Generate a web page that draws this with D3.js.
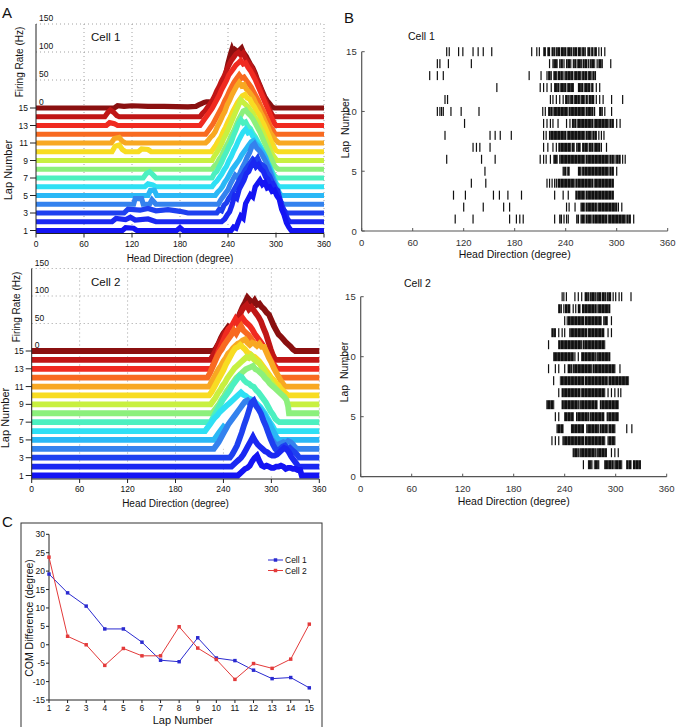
<!DOCTYPE html>
<html><head><meta charset="utf-8">
<script src="https://cdn.jsdelivr.net/npm/d3@7"></script>
<style>
body{margin:0;background:#fff}
svg{display:block}
text{font-family:"Liberation Sans",Arial,Helvetica,sans-serif;fill:#111}
</style>
</head><body>
<svg id="fig" width="686" height="727"></svg>
<script>
// ---------------- DATA ----------------
const lapNumbers = [1,2,3,4,5,6,7,8,9,10,11,12,13,14,15];
const degreeTicks = [0,60,120,180,240,300,360];
const lapTicksA = [1,3,5,7,9,11,13,15];
const rateTicks = [0,50,100,150];
const lapTicksB = [0,5,10,15];
const comTicks = [30,25,20,15,10,5,0,-5,-10,-15];

// Panel A, Cell 1: firing rate traces per lap, [degree, Hz]
const cell1Rate = [
 [[0,0],[108,0],[112,5],[122,4],[126,0],[176,0],[180,5],[184,0],[244,0],[247,6],[250,4],[253,16],[256,26],[259,22],[262,48],[265,56],[268,64],[271,60],[274,78],[277,84],[280,90],[283,82],[286,86],[289,76],[292,78],[295,70],[298,72],[301,62],[304,56],[307,38],[310,28],[313,14],[316,6],[319,0],[360,0]],
 [[0,0],[95,0],[100,6],[112,4],[118,8],[124,3],[140,5],[150,0],[232,0],[236,5],[239,12],[242,18],[245,30],[248,46],[251,42],[254,58],[257,66],[260,74],[263,86],[266,90],[269,100],[272,107],[275,98],[278,102],[281,94],[284,90],[287,80],[290,76],[293,66],[296,68],[299,60],[302,56],[305,40],[308,26],[311,18],[314,6],[317,0],[360,0]],
 [[0,0],[110,0],[115,7],[130,5],[140,8],[150,4],[165,6],[180,3],[190,0],[226,0],[229,6],[232,4],[235,14],[238,18],[241,26],[244,32],[247,40],[250,48],[253,56],[256,64],[259,70],[262,78],[265,84],[268,90],[271,96],[274,92],[277,98],[280,88],[283,86],[286,82],[289,72],[292,66],[295,56],[298,48],[301,36],[304,26],[307,14],[310,4],[313,0],[360,0]],
 [[0,0],[122,0],[124,10],[132,10],[134,0],[142,0],[145,8],[150,0],[228,0],[231,8],[234,14],[237,20],[240,26],[243,36],[246,44],[249,52],[252,48],[255,56],[258,66],[261,74],[264,84],[267,92],[270,104],[273,108],[276,100],[279,96],[282,90],[285,82],[288,74],[291,64],[294,52],[297,40],[300,26],[303,12],[306,4],[309,0],[360,0]],
 [[0,0],[140,0],[143,9],[148,9],[151,0],[224,0],[227,6],[230,10],[233,16],[236,24],[239,30],[242,38],[245,46],[248,52],[251,58],[254,64],[257,72],[260,78],[263,84],[266,90],[269,96],[272,98],[275,92],[278,88],[281,82],[284,76],[287,68],[290,56],[293,46],[296,34],[299,22],[302,12],[305,2],[308,0],[360,0]],
 [[0,0],[136,0],[140,5],[146,3],[150,0],[220,0],[223,6],[226,10],[229,16],[232,22],[235,30],[238,36],[241,46],[244,54],[247,64],[250,72],[253,82],[256,90],[259,98],[262,103],[265,96],[268,98],[271,90],[274,86],[277,78],[280,72],[283,62],[286,54],[289,44],[292,34],[295,22],[298,12],[301,4],[304,0],[360,0]],
 [[0,0],[134,0],[138,8],[142,11],[146,6],[150,0],[220,0],[223,8],[226,12],[229,20],[232,28],[235,38],[238,46],[241,56],[244,64],[247,76],[250,86],[253,98],[256,104],[259,98],[262,100],[265,92],[268,88],[271,80],[274,74],[277,66],[280,58],[283,50],[286,40],[289,30],[292,22],[295,12],[298,4],[301,0],[360,0]],
 [[0,0],[220,0],[223,6],[226,10],[229,18],[232,24],[235,34],[238,42],[241,50],[244,60],[247,68],[250,78],[253,88],[256,96],[259,104],[262,106],[265,100],[268,96],[271,90],[274,82],[277,74],[280,66],[283,56],[286,46],[289,36],[292,26],[295,16],[298,6],[301,2],[303,0],[360,0]],
 [[0,0],[220,0],[223,8],[226,14],[229,22],[232,30],[235,40],[238,48],[241,58],[244,68],[247,78],[250,88],[253,98],[256,108],[259,104],[262,100],[265,96],[268,90],[271,84],[274,76],[277,70],[280,60],[283,52],[286,42],[289,32],[292,22],[295,12],[298,6],[301,0],[360,0]],
 [[0,0],[95,0],[99,10],[104,12],[108,4],[112,0],[128,0],[132,5],[140,4],[144,0],[219,0],[222,6],[225,12],[228,20],[231,26],[234,36],[237,44],[240,54],[243,62],[246,72],[249,80],[252,88],[255,94],[258,100],[261,102],[264,96],[267,94],[270,86],[273,80],[276,72],[279,66],[282,56],[285,48],[288,38],[291,28],[294,18],[297,10],[300,2],[303,0],[360,0]],
 [[0,0],[94,0],[98,8],[104,10],[108,3],[112,0],[212,0],[215,4],[218,10],[221,14],[224,20],[227,30],[230,38],[233,48],[236,56],[239,68],[242,76],[245,86],[248,94],[251,102],[254,108],[257,102],[260,104],[263,96],[266,92],[269,86],[272,80],[275,70],[278,64],[281,54],[284,46],[287,36],[290,28],[293,18],[296,12],[299,6],[302,2],[304,0],[360,0]],
 [[0,0],[212,0],[215,6],[218,12],[221,18],[224,26],[227,34],[230,42],[233,50],[236,60],[239,68],[242,78],[245,86],[248,94],[251,100],[254,106],[257,100],[260,102],[263,96],[266,90],[269,84],[272,76],[275,68],[278,60],[281,50],[284,42],[287,32],[290,24],[293,14],[296,8],[299,0],[360,0]],
 [[0,0],[88,0],[92,5],[98,3],[102,0],[205,0],[208,6],[211,12],[214,18],[217,24],[220,30],[223,38],[226,46],[229,54],[232,64],[235,72],[238,80],[241,90],[244,96],[247,102],[250,108],[253,112],[256,116],[259,110],[262,112],[265,104],[268,98],[271,90],[274,82],[277,72],[280,62],[283,52],[286,42],[289,32],[292,22],[295,12],[298,4],[300,0],[360,0]],
 [[0,0],[86,0],[90,8],[93,12],[97,8],[101,2],[104,0],[205,0],[208,6],[211,10],[214,16],[217,22],[220,28],[223,36],[226,46],[229,54],[232,64],[235,72],[238,82],[241,92],[244,100],[247,106],[250,112],[253,115],[256,110],[259,114],[262,104],[265,98],[268,92],[271,84],[274,74],[277,64],[280,54],[283,42],[286,32],[289,22],[292,12],[295,4],[297,0],[360,0]],
 [[0,0],[98,0],[102,4],[110,3],[120,4],[140,3],[160,3],[190,2],[200,3],[204,6],[207,8],[210,10],[213,11],[216,11],[219,10],[222,4],[225,6],[228,14],[231,26],[234,44],[237,60],[240,80],[243,96],[245,105],[247,98],[249,104],[251,102],[253,96],[255,104],[257,107],[259,100],[261,96],[263,92],[265,86],[268,78],[271,72],[274,62],[277,50],[280,40],[283,30],[286,20],[289,13],[292,8],[295,2],[298,0],[360,0]]
];

// Panel A, Cell 2
const cell2Rate = [
 [[0,0],[258,0],[261,4],[264,8],[267,12],[270,14],[273,18],[276,26],[279,32],[282,36],[285,26],[288,18],[291,16],[294,18],[297,16],[300,14],[303,14],[306,16],[309,16],[312,18],[315,16],[318,12],[321,14],[324,14],[327,12],[330,12],[333,10],[336,10],[338,0],[360,0]],
 [[0,0],[250,0],[253,4],[256,8],[259,12],[262,16],[265,22],[268,30],[271,38],[274,46],[277,54],[280,46],[283,40],[286,36],[289,32],[292,28],[295,26],[298,22],[301,20],[304,20],[307,22],[310,26],[313,30],[316,34],[319,32],[322,26],[325,18],[328,12],[331,6],[334,0],[360,0]],
 [[0,0],[248,0],[251,6],[254,14],[257,22],[260,34],[263,46],[266,60],[269,72],[272,86],[275,100],[278,104],[281,94],[284,88],[287,80],[290,68],[293,58],[296,46],[299,34],[302,24],[305,16],[308,12],[311,16],[314,20],[317,22],[320,16],[323,18],[326,14],[329,10],[332,6],[335,0],[360,0]],
 [[0,0],[228,0],[231,6],[234,12],[237,20],[240,28],[243,36],[246,44],[249,50],[252,56],[255,62],[258,68],[261,74],[264,80],[267,86],[270,88],[273,82],[276,76],[279,72],[282,66],[285,60],[288,50],[291,42],[294,34],[297,26],[300,18],[303,12],[306,6],[309,8],[312,10],[315,12],[318,10],[321,14],[324,12],[327,8],[330,2],[333,0],[360,0]],
 [[0,0],[228,0],[231,6],[234,12],[237,18],[240,24],[243,20],[246,18],[249,22],[252,26],[255,32],[258,40],[261,46],[264,54],[267,58],[270,64],[273,70],[276,72],[279,66],[282,62],[285,58],[288,52],[291,46],[294,38],[297,32],[300,22],[303,14],[306,6],[309,0],[360,0]],
 [[0,0],[217,0],[220,6],[223,12],[226,18],[229,24],[232,28],[235,34],[238,38],[241,42],[244,46],[247,50],[250,54],[253,58],[256,62],[259,66],[262,70],[265,66],[268,64],[271,60],[274,58],[277,56],[280,52],[283,48],[286,44],[289,38],[292,32],[295,24],[298,16],[301,10],[304,2],[306,0],[360,0]],
 [[0,0],[224,0],[227,8],[230,16],[233,24],[236,32],[239,40],[242,46],[245,52],[248,58],[251,66],[254,72],[257,78],[260,84],[263,82],[266,76],[269,72],[272,70],[275,66],[278,64],[281,58],[284,54],[287,48],[290,42],[293,36],[296,28],[299,20],[302,14],[305,6],[308,2],[310,0],[360,0]],
 [[0,0],[226,0],[229,6],[232,12],[235,18],[238,26],[241,32],[244,40],[247,46],[250,52],[253,58],[256,64],[259,68],[262,72],[265,76],[268,80],[271,82],[274,84],[277,86],[280,80],[283,78],[286,74],[289,70],[292,64],[295,60],[298,54],[301,50],[304,46],[307,42],[310,38],[313,34],[316,30],[319,24],[321,12],[322,0],[360,0]],
 [[0,0],[224,0],[227,6],[230,12],[233,20],[236,26],[239,34],[242,40],[245,48],[248,54],[251,60],[254,66],[257,70],[260,74],[263,78],[266,82],[269,86],[272,84],[275,88],[278,82],[281,78],[284,76],[287,70],[290,64],[293,56],[296,50],[299,42],[302,36],[305,30],[308,24],[311,18],[314,12],[317,6],[320,0],[360,0]],
 [[0,0],[222,0],[225,6],[228,14],[231,22],[234,30],[237,38],[240,46],[243,56],[246,64],[249,72],[252,80],[255,86],[258,88],[261,92],[264,88],[267,84],[270,78],[273,76],[276,72],[279,70],[282,66],[285,62],[288,56],[291,50],[294,44],[297,38],[300,32],[303,28],[306,22],[309,18],[312,12],[315,8],[318,4],[321,0],[360,0]],
 [[0,0],[222,0],[225,8],[228,16],[231,24],[234,32],[237,38],[240,46],[243,52],[246,60],[249,64],[252,70],[255,74],[258,78],[261,80],[264,84],[267,86],[270,80],[273,76],[276,80],[279,78],[282,74],[285,78],[288,72],[291,72],[294,62],[297,52],[300,44],[303,34],[306,26],[309,18],[312,10],[315,4],[317,0],[360,0]],
 [[0,0],[220,0],[223,8],[226,18],[229,28],[232,38],[235,46],[238,52],[241,60],[244,66],[247,72],[250,78],[253,86],[256,80],[259,88],[262,94],[265,86],[268,82],[271,78],[274,72],[277,66],[280,58],[283,50],[286,42],[289,36],[292,28],[295,20],[298,12],[301,6],[304,0],[360,0]],
 [[0,0],[225,0],[228,10],[231,20],[234,32],[237,42],[240,52],[243,62],[246,72],[249,76],[252,82],[255,90],[258,82],[261,88],[264,92],[267,86],[270,82],[273,78],[276,72],[279,64],[282,58],[285,52],[288,46],[291,38],[294,30],[297,22],[300,14],[303,8],[306,2],[308,0],[360,0]],
 [[0,0],[224,0],[227,8],[230,16],[233,26],[236,34],[239,42],[242,50],[245,52],[248,46],[251,54],[254,62],[257,72],[260,80],[263,90],[266,96],[269,100],[272,92],[275,96],[278,90],[281,84],[284,78],[287,70],[290,58],[293,48],[296,34],[299,20],[302,8],[305,0],[360,0]],
 [[0,0],[228,0],[231,6],[234,14],[237,24],[240,32],[243,38],[246,44],[249,40],[252,36],[255,46],[258,58],[261,70],[264,80],[267,88],[270,97],[273,92],[276,86],[279,92],[282,84],[285,86],[288,80],[291,76],[294,70],[297,66],[300,56],[303,46],[306,38],[309,30],[312,26],[315,21],[318,16],[321,12],[324,8],[327,3],[330,0],[360,0]]
];

// Panel B rasters: spikes per lap (degree), [start,end] = dense run of spikes
const cell1Spikes = [
 [110,131,174,182,186,190,227,[233,235],238,241,243,[253,255],[258,262],[264,270],[272,288],[290,310],[312,316],320],
 [120,143,167,174,241,244,251,[258,262],[264,276],[278,300],302,306],
 [108,122,155,162,172,188,227,237,243,[252,262],[264,296]],
 [129,146,218,221,224,227,229,[231,250],[252,272],[274,296]],
 [145,[237,240],[242,244],[255,258],[260,290],[292,296],300],
 [100,141,157,210,214,217,222,[226,230],[233,262],[264,290],[292,296],298,[300,304],307,310],
 [131,135,139,151,214,219,225,229,[232,246],[248,250],[253,257],[260,266],[268,272],[274,280],282,288],
 [98,151,157,163,176,214,217,[221,240],[242,262],[264,270],[272,276],279,282,285],
 [121,214,218,222,225,231,241,245,[248,252],[254,272],[274,290],[292,296],300,304],
 [89,92,94,96,105,117,138,213,216,[220,224],[226,242],[244,262],[264,272],274,[280,283],286,294],
 [98,101,222,225,229,233,237,[240,243],[245,248],[250,256],[258,262],[264,266],[268,273],276,280,284,294,307],
 [159,210,214,218,223,[227,232],[234,240],[242,249],[255,260],[262,268],[270,272],276,280],
 [80,89,96,197,211,218,[220,223],[226,229],[231,236],238,[240,248],[250,258],[260,265],[267,270],[272,275]],
 [89,92,102,129,221,[225,230],[233,236],238,[241,246],[249,252],[254,259],[261,265],267,[269,274],277,[279,283],293],
 [100,103,114,119,131,137,143,153,200,206,209,[214,216],[219,221],[224,227],[229,233],[235,240],[242,247],[249,253],[255,258],[260,263],[266,268],[270,272],[274,276],279,282,286]
];
const cell2Spikes = [
 [262,[268,272],[275,280],[287,297],[299,307],[313,318],[321,329]],
 [[250,256],[258,276],[278,289],295,299,303],
 [225,229,233,[238,262],[264,287],[291,299]],
 [[231,238],[248,262],[266,280],[282,290],[292,299],313,319],
 [229,233,[240,250],[254,268],[270,286],[290,303]],
 [[219,227],[237,256],[258,278],[282,303]],
 [233,[237,258],[260,287],291,295,299,303,306],
 [227,[235,262],[264,290],[292,315]],
 [221,229,233,240,[244,248],[250,272],[274,299],305],
 [[227,250],252,256,[260,276],[278,293]],
 [221,[233,260],[262,287]],
 [[225,229],233,237,240,[246,266],[268,286],291,295],
 [240,[243,262],[264,283],[286,290],295],
 [[233,236],239,[241,246],250,253,[256,258],[261,277],[279,293]],
 [237,239,242,252,256,260,[264,268],[270,276],[278,282],[284,288],[290,294],297,300,304,307,318]
];

// Panel C: COM difference (degree) per lap
const comCell1 = [19.2,14.1,10.5,4.3,4.3,0.7,-4.2,-4.6,1.9,-3.6,-4.3,-6.9,-9.2,-8.9,-11.7];
const comCell2 = [23.8,2.3,0.0,-5.6,-1.0,-3.0,-3.0,4.9,-0.9,-4.0,-9.4,-5.1,-6.4,-3.9,5.6];

// ---------------- STYLE ----------------
const lapColors = ["#1414f4","#1a28f2","#1e40f0","#3482ee","#2ab8f6","#2ee0f4","#4cf0c0","#8cf07c","#c8f040","#f8dc22","#f8a822","#f86a20","#f02a20","#c01616","#8a1010"];
const svg = d3.select("#fig");
const defs = svg.append("defs");
const pat = defs.append("pattern").attr("id","spk").attr("patternUnits","userSpaceOnUse")
  .attr("width",3.4).attr("height",20);
pat.append("rect").attr("x",0).attr("y",0).attr("width",3.4).attr("height",20).attr("fill","#111");
pat.append("rect").attr("x",2.9).attr("y",0).attr("width",0.5).attr("height",20).attr("fill","#777");

function txt(g, x, y, s, size, anchor, extra){
  const t = g.append("text").attr("x",x).attr("y",y).attr("font-size",size)
    .attr("text-anchor",anchor||"start").text(s);
  if (extra) extra(t);
  return t;
}

// ---------------- PANEL A (waterfall) ----------------
function waterfall(cfg, traces){
  const g = svg.append("g");
  const x = d3.scaleLinear().domain([0,360]).range([cfg.x0,cfg.x1]);
  const lapY = d3.scaleLinear().domain([1,15]).range([cfg.yLap1,cfg.yLap15]);
  const rate = d3.scaleLinear().domain([0,150]).range([0,150*cfg.pxHz]);
  const top = cfg.yLap15 - rate(150);
  const grid = g.append("g").attr("stroke","#8a8a8a").attr("stroke-width",0.8).attr("stroke-dasharray","1,3");
  degreeTicks.filter(d=>d>0).forEach(d=>{
    grid.append("line").attr("x1",x(d)).attr("x2",x(d)).attr("y1",top).attr("y2",cfg.axisY);
  });
  rateTicks.filter(r=>r>0).forEach(r=>{
    grid.append("line").attr("x1",cfg.x0).attr("x2",cfg.x1).attr("y1",cfg.yLap15-rate(r)).attr("y2",cfg.yLap15-rate(r));
  });
  for (let i = lapNumbers.length-1; i>=0; i--){
    const base = lapY(lapNumbers[i]);
    const area = d3.area().x(d=>x(d[0])).y0(base).y1(d=>base-rate(d[1]));
    const line = d3.line().x(d=>x(d[0])).y(d=>base-rate(d[1]));
    g.append("path").attr("d",area(traces[i])).attr("fill","#fff");
    g.append("path").attr("d",line(traces[i])).attr("fill","none")
      .attr("stroke",lapColors[i]).attr("stroke-width",cfg.sw).attr("stroke-linejoin","miter");
  }
  g.append("line").attr("x1",cfg.x0).attr("x2",cfg.x0).attr("y1",top).attr("y2",cfg.axisY).attr("stroke","#222").attr("stroke-width",1);
  g.append("line").attr("x1",cfg.x0).attr("x2",cfg.x1).attr("y1",cfg.axisY).attr("y2",cfg.axisY).attr("stroke","#222").attr("stroke-width",1);
  degreeTicks.forEach(d=>{
    g.append("line").attr("x1",x(d)).attr("x2",x(d)).attr("y1",cfg.axisY).attr("y2",cfg.axisY+4).attr("stroke","#222");
    txt(g, x(d), cfg.axisY+13, d, 8.5, "middle");
  });
  lapTicksA.forEach(l=>{
    g.append("line").attr("x1",cfg.x0-6).attr("x2",cfg.x0).attr("y1",lapY(l)).attr("y2",lapY(l)).attr("stroke","#222");
    txt(g, cfg.x0-8, lapY(l)+3, l, 8.5, "end");
  });
  rateTicks.forEach(r=>{
    txt(g, cfg.x0+3, cfg.yLap15-rate(r)-3, r, 8.5, "start");
  });
  txt(g, cfg.cellX, cfg.cellY, cfg.cell, 11.5, "start");
  txt(g, 0, 0, "Firing Rate (Hz)", 10, "middle", t=>t.attr("transform",`translate(${cfg.frX},${cfg.frY}) rotate(-90)`));
  txt(g, 0, 0, "Lap Number", 11, "middle", t=>t.attr("transform",`translate(${cfg.lnX},${cfg.lnY}) rotate(-90)`));
  txt(g, (cfg.x0+cfg.x1)/2, cfg.hdY, "Head Direction (degree)", 10, "middle");
}

waterfall({x0:36,x1:324,yLap1:230.5,yLap15:108,pxHz:0.56,axisY:233.5,sw:5.2,
  cell:"Cell 1",cellX:91,cellY:41,frX:23,frY:62,lnX:12,lnY:170,hdY:262},cell1Rate);
waterfall({x0:31.7,x1:319.3,yLap1:475.5,yLap15:351,pxHz:0.55,axisY:479,sw:5.8,
  cell:"Cell 2",cellX:91,cellY:286,frX:20,frY:307,lnX:9,lnY:418,hdY:507},cell2Rate);

// ---------------- PANEL B (rasters) ----------------
function raster(cfg, spikes){
  const g = svg.append("g");
  const x = d3.scaleLinear().domain([0,360]).range([cfg.x0,cfg.x1]);
  const y = d3.scaleLinear().domain([0,15]).range([cfg.y0,cfg.y15]);
  spikes.forEach((row,i)=>{
    const yc = y(lapNumbers[i]);
    row.forEach(s=>{
      if (Array.isArray(s)){
        g.append("rect").attr("x",x(s[0])-0.6).attr("width",x(s[1])-x(s[0])+1.2)
          .attr("y",yc-4.5).attr("height",9).attr("fill","url(#spk)");
      } else {
        g.append("rect").attr("x",x(s)-0.6).attr("width",1.2)
          .attr("y",yc-4.5).attr("height",9).attr("fill","#111");
      }
    });
  });
  const ax = "#555";
  g.append("line").attr("x1",cfg.x0).attr("x2",cfg.x1).attr("y1",cfg.y0).attr("y2",cfg.y0).attr("stroke",ax).attr("stroke-width",1.2);
  g.append("line").attr("x1",cfg.x0).attr("x2",cfg.x0).attr("y1",cfg.y0).attr("y2",y(15)).attr("stroke",ax).attr("stroke-width",1.2);
  degreeTicks.forEach(d=>{
    g.append("line").attr("x1",x(d)).attr("x2",x(d)).attr("y1",cfg.y0).attr("y2",cfg.y0-3).attr("stroke",ax);
    txt(g, x(d), cfg.y0+cfg.tickDy, d, 9.5, "middle", t=>t.style("fill","#333"));
  });
  lapTicksB.forEach(l=>{
    g.append("line").attr("x1",cfg.x0).attr("x2",cfg.x0+3).attr("y1",y(l)).attr("y2",y(l)).attr("stroke",ax);
    txt(g, cfg.x0-5, y(l)+3.5, l, 9.5, "end", t=>t.style("fill","#333"));
  });
  txt(g, cfg.cellX, cfg.cellY, cfg.cell, 10.5, "start");
  txt(g, 0, 0, "Lap  Number", 10.5, "middle", t=>t.attr("transform",`translate(${cfg.lnX},${cfg.lnY}) rotate(-90)`).style("white-space","pre"));
  txt(g, (cfg.x0+cfg.x1)/2, cfg.hdY, "Head Direction (degree)", 10.5, "middle");
}
raster({x0:361.7,x1:667.7,y0:231,y15:51.7,tickDy:15,cell:"Cell 1",cellX:408,cellY:40,lnX:349,lnY:128,hdY:257.5},cell1Spikes);
raster({x0:360.7,x1:666.7,y0:476.7,y15:296.7,tickDy:15,cell:"Cell 2",cellX:404,cellY:287,lnX:348,lnY:372,hdY:505},cell2Spikes);

// ---------------- PANEL C (COM line chart) ----------------
(function(){
  const g = svg.append("g");
  g.append("rect").attr("x",21).attr("y",523).attr("width",301).attr("height",230)
    .attr("fill","none").attr("stroke","#333").attr("stroke-width",1);
  const x = d3.scaleLinear().domain([1,15]).range([49,309.3]);
  const y = d3.scaleLinear().domain([-15,30]).range([700,534.3]);
  g.append("line").attr("x1",49).attr("x2",49).attr("y1",y(30)).attr("y2",y(-15)).attr("stroke","#222");
  g.append("line").attr("x1",49).attr("x2",x(15)).attr("y1",y(-15)).attr("y2",y(-15)).attr("stroke","#222");
  comTicks.forEach(v=>{
    g.append("line").attr("x1",46).attr("x2",49).attr("y1",y(v)).attr("y2",y(v)).attr("stroke","#222");
    txt(g, 45, y(v)+3, v, 8.5, "end");
  });
  lapNumbers.forEach(l=>{
    g.append("line").attr("x1",x(l)).attr("x2",x(l)).attr("y1",700).attr("y2",703).attr("stroke","#222");
    txt(g, x(l), 710.5, l, 8.5, "middle");
  });
  txt(g, 183, 724, "Lap Number", 11, "middle");
  txt(g, 0, 0, "COM Difference (degree)", 10.5, "middle", t=>t.attr("transform","translate(33,618) rotate(-90)"));
  const series = [{v:comCell1,c:"#2a2ad0",name:"Cell 1"},{v:comCell2,c:"#e33a3a",name:"Cell 2"}];
  const line = d3.line().x((d,i)=>x(lapNumbers[i])).y(d=>y(d));
  series.forEach((s,k)=>{
    g.append("path").attr("d",line(s.v)).attr("fill","none").attr("stroke",s.c).attr("stroke-width",1);
    s.v.forEach((d,i)=>{
      g.append("path").attr("d",d3.symbol().type(d3.symbolSquare).size(12)()).attr("transform",`translate(${x(lapNumbers[i])},${y(d)})`).attr("fill",s.c);
    });
    const ly = 560 + k*10.5;
    g.append("line").attr("x1",268).attr("x2",283).attr("y1",ly).attr("y2",ly).attr("stroke",s.c);
    g.append("path").attr("d",d3.symbol().type(d3.symbolSquare).size(12)()).attr("transform",`translate(275.5,${ly})`).attr("fill",s.c);
    txt(g, 285, ly+3, s.name, 8.5, "start");
  });
})();

txt(svg, 2, 18, "A", 15, "start");
txt(svg, 344, 23, "B", 15, "start");
txt(svg, 2, 527, "C", 15, "start");
</script>
</body></html>
